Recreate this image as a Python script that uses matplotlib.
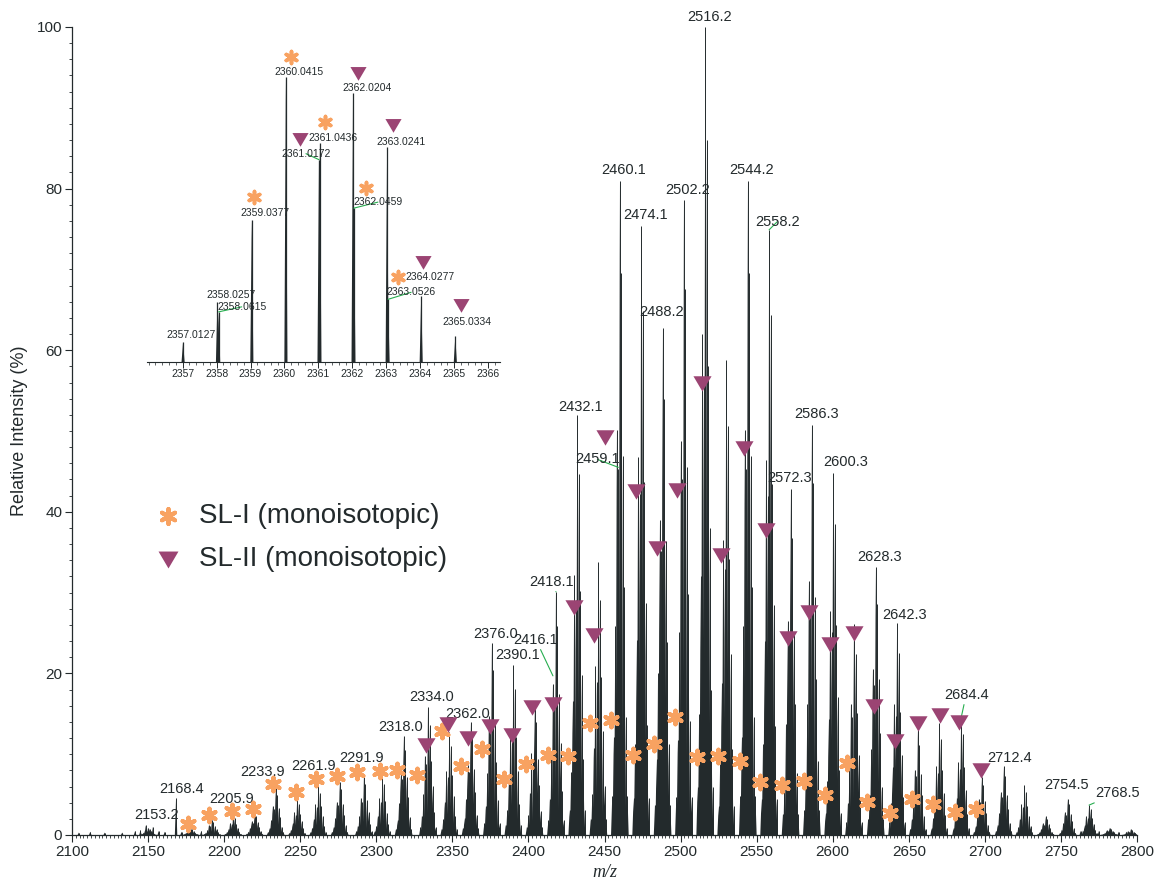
import numpy as np
import matplotlib
matplotlib.use("Agg")
import matplotlib.pyplot as plt
from matplotlib import font_manager as fm
from matplotlib.collections import PolyCollection
from matplotlib.ticker import MultipleLocator

# ─── Espectro principal: grupos cada ~14 Da (m/z del pico mayor, intensidad %) ───
cluster_mz = [2150.0, 2178.0, 2192.0, 2205.9, 2220.0, 2233.9, 2248.0, 2261.9,
              2276.0, 2291.9, 2304.0, 2318.0, 2334.0, 2348.0, 2362.0, 2376.0,
              2390.1, 2404.0, 2418.1, 2432.1, 2446.0, 2460.1, 2474.1, 2488.2,
              2502.2, 2516.2, 2530.0, 2544.2, 2558.2, 2572.3, 2586.3, 2600.3,
              2614.0, 2628.3, 2642.3, 2656.0, 2670.0, 2684.4, 2698.0, 2712.4,
              2726.0, 2740.0, 2754.5, 2768.5, 2782.0, 2796.0]
cluster_int = [0.9, 0.8, 1.9, 2.4, 2.7, 5.8, 4.5, 6.1,
               6.6, 7.4, 7.3, 12.3, 15.8, 12.8, 14.0, 23.8,
               21.0, 16.3, 30.1, 52.0, 33.8, 80.9, 75.4, 62.8,
               78.6, 100.0, 58.8, 80.9, 74.9, 42.8, 50.7, 44.8,
               26.1, 33.2, 26.2, 13.0, 13.8, 14.5, 7.2, 8.5,
               6.2, 2.3, 4.5, 3.7, 0.9, 0.7]

# forma relativa de cada grupo (isótopos a 1 Da del pico mayor)
iso_offset = [-5, -4, -3, -2, -1, 0, 1, 2, 3, 4, 5]
iso_rel = [0.06, 0.15, 0.32, 0.62, 0.56, 1.00, 0.86, 0.58, 0.38, 0.18, 0.06]

# picos aislados y ruido de línea base
extra_mz = [2104.5, 2112.0, 2121.5, 2133.0, 2141.5, 2145.0, 2148.5, 2153.2,
            2157.0, 2161.0, 2168.4, 2172.0, 2185.0, 2763.0, 2775.0, 2788.0, 2793.0]
extra_int = [0.3, 0.4, 0.3, 0.3, 0.5, 0.6, 1.2, 1.0,
             0.5, 0.4, 4.6, 0.4, 0.5, 0.5, 0.5, 0.4, 0.4]

# picos etiquetados (valor m/z, intensidad del pico)
label_mz = [2153.2, 2168.4, 2205.9, 2233.9, 2261.9, 2291.9, 2318.0, 2334.0,
            2362.0, 2376.0, 2390.1, 2416.1, 2418.1, 2432.1, 2459.1, 2460.1,
            2474.1, 2488.2, 2502.2, 2516.2, 2544.2, 2558.2, 2572.3, 2586.3,
            2600.3, 2628.3, 2642.3, 2684.4, 2712.4, 2754.5, 2768.5]
label_int = [1.0, 4.6, 2.4, 5.8, 6.1, 7.4, 12.3, 15.8,
             14.0, 23.8, 21.0, 19.7, 30.1, 52.0, 45.5, 80.9,
             75.4, 62.8, 78.6, 100.0, 80.9, 74.9, 42.8, 50.7,
             44.8, 33.2, 26.2, 14.5, 8.5, 4.5, 3.7]

# marcadores monoisotópicos
sl1_mz = [2176.5, 2190.3, 2205.0, 2219.2, 2232.3, 2247.3, 2260.4, 2274.4,
          2287.6, 2302.3, 2313.9, 2326.6, 2343.5, 2355.6, 2369.8, 2384.0,
          2398.3, 2413.0, 2426.1, 2440.2, 2454.2, 2468.5, 2482.8, 2496.6,
          2510.9, 2524.3, 2538.9, 2552.5, 2566.8, 2580.9, 2595.1, 2609.2,
          2622.6, 2637.4, 2651.9, 2666.2, 2680.5, 2693.9]
sl1_int = [1.4, 2.5, 3.0, 3.2, 6.3, 5.3, 6.9, 7.3,
           7.8, 7.9, 8.0, 7.4, 12.9, 8.6, 10.6, 6.9,
           8.8, 9.9, 9.8, 13.9, 14.2, 9.9, 11.3, 14.6,
           9.6, 9.8, 9.1, 6.5, 6.2, 6.7, 5.0, 8.9,
           4.1, 2.7, 4.4, 3.8, 2.8, 3.2]
sl2_mz = [2332.5, 2347.4, 2360.6, 2374.8, 2389.1, 2402.6, 2416.2, 2430.0,
          2443.2, 2450.4, 2470.8, 2484.6, 2497.8, 2514.4, 2526.6, 2541.4,
          2556.1, 2570.4, 2584.5, 2598.3, 2614.0, 2627.0, 2640.8, 2655.8,
          2670.2, 2683.0, 2697.4]
sl2_int = [11.1, 13.7, 12.0, 13.5, 12.4, 15.9, 16.2, 28.2,
           24.8, 49.3, 42.6, 35.5, 42.7, 55.9, 34.6, 47.9,
           37.7, 24.4, 27.6, 23.6, 25.0, 16.0, 11.6, 13.8,
           14.9, 14.0, 8.0]

# ─── Recuadro: zona 2357-2366 ───────────────────────────────────────────
inset_mz = [2357.0127, 2358.0257, 2358.0615, 2359.0377, 2360.0415, 2361.0172,
            2361.0436, 2362.0204, 2362.0459, 2363.0241, 2363.0526, 2364.0277,
            2365.0334]
inset_int = [7, 21, 17.6, 50, 100, 71, 77, 94.5, 54, 75.3, 22, 23, 9]
inset_ticks = [2357, 2358, 2359, 2360, 2361, 2362, 2363, 2364, 2365, 2366]
inset_sl1_mz = [2359.10, 2360.18, 2361.19, 2362.40, 2363.35]
inset_sl1_int = [58.0, 106.9, 84.3, 60.9, 29.7]
inset_sl2_mz = [2360.46, 2362.18, 2363.21, 2364.07, 2365.19]
inset_sl2_int = [78.1, 101.3, 83.2, 35.2, 20.0]

# ─── Estilo ─────────────────────────────────────────────────────────────
INK = "#232a2c"
ORANGE = "#F8A261"
PURPLE = "#9B4473"
GREEN = "#27ad4f"

_names = {f.name for f in fm.fontManager.ttflist}
HAS_NARROW = "Liberation Sans Narrow" in _names
NARROW = "Liberation Sans Narrow" if HAS_NARROW else "Liberation Sans"
K = 1.0 if HAS_NARROW else 0.88
plt.rcParams["font.family"] = ["Liberation Sans", "DejaVu Sans"]

# desplazamientos (px) de cada etiqueta respecto de la cima del pico
label_offsets = {
    "2153.2": (4, 12), "2168.4": (5, 9), "2205.9": (-1, 17), "2233.9": (-13, 16),
    "2261.9": (-5, 20), "2291.9": (-2, 17), "2318.0": (-3, 9), "2334.0": (4, 10),
    "2362.0": (-3, 8), "2376.0": (4, 9), "2390.1": (4, 10), "2416.1": (-17, 36),
    "2418.1": (-4, 10), "2432.1": (3, 8), "2459.1": (-21, 8), "2460.1": (4, 11),
    "2474.1": (4, 11), "2488.2": (-1, 16), "2502.2": (4, 10), "2516.2": (4, 10),
    "2544.2": (4, 11), "2558.2": (8, 8), "2572.3": (-1, 11), "2586.3": (5, 11),
    "2600.3": (13, 11), "2628.3": (4, 10), "2642.3": (7, 8), "2684.4": (5, 23),
    "2712.4": (6, 8), "2754.5": (-1, 14), "2768.5": (28, 12),
}
leader_labels = {"2416.1", "2418.1", "2459.1", "2558.2", "2684.4", "2768.5"}

inset_offsets = {
    "2357.0127": (8, 7), "2358.0257": (14, 7), "2358.0615": (23, 5),
    "2359.0377": (13, 7), "2360.0415": (13, 5), "2361.0172": (-13, 6),
    "2361.0436": (13, 5), "2362.0204": (14, 5), "2362.0459": (24, 6),
    "2363.0241": (14, 5), "2363.0526": (23, 7), "2364.0277": (9, 19),
    "2365.0334": (12, 14),
}
inset_leaders = {"2358.0615", "2361.0172", "2362.0459", "2363.0526"}


def _peaks(ax, mz, inten, half_width, lw):
    """Dibuja cada pico como un triángulo estrecho más una línea central."""
    polys = [[(m - half_width, 0), (m, h), (m + half_width, 0)] for m, h in zip(mz, inten)]
    ax.add_collection(PolyCollection(polys, facecolors=INK, edgecolors="none", zorder=2))
    ax.vlines(mz, 0, inten, colors=INK, linewidth=lw, zorder=2)


def _label(ax, text, x, y, dx, dy, size, leader):
    ax.annotate(
        text, xy=(x, y), xytext=(dx, dy), textcoords="offset pixels",
        ha="center", va="center", fontsize=size, family=NARROW, color=INK,
        zorder=4, annotation_clip=False,
        arrowprops=dict(arrowstyle="-", color=GREEN, lw=0.8, shrinkA=0, shrinkB=0)
        if leader else None,
    )


W, H = 1161, 882
fig = plt.figure(figsize=(W / 100, H / 100), dpi=100)
ax = fig.add_axes([72 / W, 47 / H, 1065 / W, 808 / H])

# ── Espectro ──────────────────────────────────────────────────────────
spec_mz, spec_int = [], []
for c_mz, c_int in zip(cluster_mz, cluster_int):
    for off, rel in zip(iso_offset, iso_rel):
        spec_mz.append(c_mz + off)
        spec_int.append(c_int * rel)
spec_mz += extra_mz
spec_int += extra_int
_peaks(ax, spec_mz, spec_int, 0.8, 0.7)

# ── Etiquetas ─────────────────────────────────────────────────────────
for mz, h in zip(label_mz, label_int):
    txt = f"{mz:.1f}"
    dx, dy = label_offsets.get(txt, (4, 10))
    _label(ax, txt, mz, h, dx, dy, 12 * K, txt in leader_labels)

# ── Marcadores ────────────────────────────────────────────────────────
tri = [(-1, 0.8), (1, 0.8), (0, -0.9)]
sc1 = ax.scatter(sl1_mz, sl1_int, marker=(6, 2, 0), s=95, color=ORANGE,
                 linewidths=3.0, zorder=5, label="SL-I (monoisotopic)")
sc2 = ax.scatter(sl2_mz, sl2_int, marker=tri, s=170, color=PURPLE,
                 linewidths=0, zorder=5, label="SL-II (monoisotopic)")

# ── Ejes ──────────────────────────────────────────────────────────────
ax.set_xlim(2100, 2800)
ax.set_ylim(0, 100)
ax.spines["top"].set_visible(False)
ax.spines["right"].set_visible(False)
for s in ("left", "bottom"):
    ax.spines[s].set_color(INK)
    ax.spines[s].set_linewidth(0.9)
ax.xaxis.set_major_locator(MultipleLocator(50))
ax.xaxis.set_minor_locator(MultipleLocator(2.5))
ax.yaxis.set_major_locator(MultipleLocator(20))
ax.yaxis.set_minor_locator(MultipleLocator(2))
ax.tick_params(which="major", direction="out", length=5, width=0.8, color=INK,
               labelsize=12.5 * K, labelcolor=INK, pad=2)
ax.tick_params(which="minor", direction="out", length=2.5, width=0.6, color=INK)
for t in ax.get_xticklabels() + ax.get_yticklabels():
    t.set_family(NARROW)

ax.set_ylabel("Relative Intensity (%)", fontsize=13, color=INK, labelpad=6)
ax.set_xlabel("m/z", fontsize=13, style="italic", family="Liberation Serif",
              color=INK, labelpad=4)

leg = ax.legend(handles=[sc1, sc2], loc="center left", bbox_to_anchor=(0.067, 0.368),
                frameon=False, fontsize=20, handlelength=1.0, handletextpad=0.6,
                labelspacing=0.6, markerscale=1.1, borderaxespad=0)
for t in leg.get_texts():
    t.set_color(INK)

# ── Recuadro ──────────────────────────────────────────────────────────
axin = fig.add_axes([147 / W, (H - 362) / H, 353 / W, 322 / H])
axin.set_facecolor("none")
axin.set_xlim(2355.95, 2366.35)
axin.set_ylim(0, 113)
_peaks(axin, inset_mz, inset_int, 0.045, 0.9)
for mz, h in zip(inset_mz, inset_int):
    txt = f"{mz:.4f}"
    dx, dy = inset_offsets[txt]
    _label(axin, txt, mz, h, dx, dy, 8.5 * K, txt in inset_leaders)
axin.scatter(inset_sl1_mz, inset_sl1_int, marker=(6, 2, 0), s=75, color=ORANGE,
             linewidths=2.6, zorder=5, clip_on=False)
axin.scatter(inset_sl2_mz, inset_sl2_int, marker=tri, s=135, color=PURPLE,
             linewidths=0, zorder=5, clip_on=False)
for s in ("top", "right", "left"):
    axin.spines[s].set_visible(False)
axin.spines["bottom"].set_color(INK)
axin.spines["bottom"].set_linewidth(0.8)
axin.set_yticks([])
axin.set_xticks(inset_ticks)
axin.set_xticklabels([str(t) for t in inset_ticks], family=NARROW)
axin.xaxis.set_minor_locator(MultipleLocator(0.2))
axin.tick_params(which="major", direction="out", length=4, width=0.7, color=INK,
                 labelsize=8.5 * K, labelcolor=INK, pad=1)
axin.tick_params(which="minor", direction="out", length=2, width=0.5, color=INK)

fig.savefig("out.png", dpi=100)
